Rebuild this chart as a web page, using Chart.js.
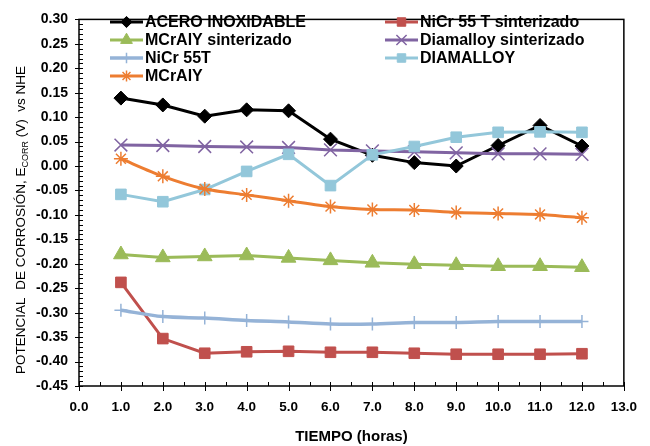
<!DOCTYPE html>
<html>
<head>
<meta charset="utf-8">
<script src="https://cdn.jsdelivr.net/npm/chart.js@4"></script>
<style>
  html, body { margin: 0; padding: 0; background: #fff; }
  #wrap { width: 650px; height: 446px; }
</style>
</head>
<body>
<div id="wrap"><canvas id="chart" width="650" height="446"></canvas></div>
<script>
const hours = [1, 2, 3, 4, 5, 6, 7, 8, 9, 10, 11, 12];

const acero         = [0.139, 0.125, 0.102, 0.115, 0.113, 0.055, 0.022, 0.007, 0.000, 0.042, 0.083, 0.041];
const nicrSint      = [-0.238, -0.353, -0.383, -0.380, -0.379, -0.381, -0.381, -0.383, -0.385, -0.385, -0.385, -0.384];
const mcralySint    = [-0.181, -0.187, -0.185, -0.183, -0.188, -0.193, -0.198, -0.201, -0.203, -0.205, -0.205, -0.207];
const diamalloySint = [0.043, 0.042, 0.040, 0.039, 0.038, 0.033, 0.031, 0.029, 0.027, 0.025, 0.025, 0.024];
const nicr          = [-0.295, -0.308, -0.311, -0.316, -0.319, -0.323, -0.323, -0.320, -0.320, -0.318, -0.318, -0.318];
const diamalloy     = [-0.058, -0.073, -0.048, -0.011, 0.024, -0.040, 0.023, 0.040, 0.059, 0.069, 0.070, 0.069];
const mcraly        = [0.015, -0.021, -0.047, -0.059, -0.071, -0.083, -0.089, -0.090, -0.095, -0.097, -0.099, -0.106];

const seriesNames = [
  "ACERO INOXIDABLE", "NiCr 55 T sinterizado", "MCrAlY sinterizado",
  "Diamalloy sinterizado", "NiCr 55T", "DIAMALLOY", "MCrAlY"
];

const FONT = "'Liberation Sans', Arial, sans-serif";

const toPoints = (vals) => hours.map((h, i) => ({ x: h, y: vals[i] }));

const makeSet = (i, vals, color, style, radius, width, tension, pointBorder) => ({
  label: seriesNames[i],
  data: toPoints(vals),
  borderColor: color,
  backgroundColor: color,
  borderWidth: width,
  pointStyle: style,
  pointRadius: radius,
  pointHoverRadius: radius,
  pointBackgroundColor: color,
  pointBorderColor: color,
  pointBorderWidth: pointBorder,
  tension: tension,
  order: -i, // excel draws later series on top
});

const datasets = [
  makeSet(0, acero, "#000000", "rectRot", 7, 3, 0, 1),
  makeSet(1, nicrSint, "#C0504D", "rect", 7.5, 3, 0, 1),
  makeSet(2, mcralySint, "#9BBB59", "triangle", 8.5, 3, 0, 1),
  makeSet(3, diamalloySint, "#8064A2", "crossRot", 9, 3, 0, 1.5),
  makeSet(4, nicr, "#95B3D7", "cross", 6.5, 3.5, 0.3, 1.5),
  makeSet(5, diamalloy, "#93C7DA", "rect", 7.5, 3, 0, 1),
  makeSet(6, mcraly, "#ED7D31", "star", 7, 3, 0.25, 1.5),
];

// ticks, frame, axis titles and the two-column legend
const decorations = {
  id: "decorations",
  afterDraw(chart) {
    const ctx = chart.ctx;
    const a = chart.chartArea;
    const xs = chart.scales.x;
    const ys = chart.scales.y;
    ctx.save();
    ctx.strokeStyle = "#000";
    ctx.lineWidth = 1.5;
    ctx.strokeRect(a.left, a.top, a.right - a.left, a.bottom - a.top);

    ctx.lineWidth = 1;
    ctx.beginPath();
    for (let k = 0; k <= 75; k++) {
      const py = Math.round(ys.getPixelForValue(-0.45 + k * 0.01)) + 0.5;
      if (k % 5 === 0) { ctx.moveTo(a.left - 4, py); ctx.lineTo(a.left + 4, py); }
      else { ctx.moveTo(a.left, py); ctx.lineTo(a.left + 4, py); }
    }
    for (let k = 0; k <= 26; k++) {
      const px = Math.round(xs.getPixelForValue(k * 0.5)) + 0.5;
      if (k % 2 === 0) { ctx.moveTo(px, a.bottom - 4); ctx.lineTo(px, a.bottom + 5); }
      else { ctx.moveTo(px, a.bottom - 4); ctx.lineTo(px, a.bottom); }
    }
    ctx.stroke();

    // x title
    ctx.fillStyle = "#000";
    ctx.font = "bold 15px " + FONT;
    ctx.textAlign = "center";
    ctx.textBaseline = "middle";
    ctx.fillText("TIEMPO (horas)", (a.left + a.right) / 2, 437);

    // y title with subscript
    const parts = [
      { t: "POTENCIAL  DE CORROSIÓN, E", f: "13.5px " + FONT, dy: 0 },
      { t: "CORR", f: "9px " + FONT, dy: 3 },
      { t: " (V)  vs NHE", f: "13.5px " + FONT, dy: 0 },
    ];
    let total = 0;
    parts.forEach(p => { ctx.font = p.f; p.w = ctx.measureText(p.t).width; total += p.w; });
    ctx.translate(21, 220);
    ctx.rotate(-Math.PI / 2);
    ctx.textAlign = "left";
    ctx.textBaseline = "alphabetic";
    let cx = -total / 2;
    parts.forEach(p => { ctx.font = p.f; ctx.fillText(p.t, cx, 4 + p.dy); cx += p.w; });
    ctx.setTransform(1, 0, 0, 1, 0, 0);

    // legend
    const cols = [110, 385];
    const rowY = [22, 40, 58, 76];
    ctx.font = "bold 16px " + FONT;
    ctx.textBaseline = "middle";
    chart.data.datasets.forEach((ds, i) => {
      const x0 = cols[i % 2];
      const y0 = rowY[Math.floor(i / 2)];
      ctx.strokeStyle = ds.borderColor;
      ctx.lineWidth = ds.borderWidth;
      ctx.beginPath();
      ctx.moveTo(x0, y0);
      ctx.lineTo(x0 + 33, y0);
      ctx.stroke();
      ctx.fillStyle = ds.borderColor;
      ctx.strokeStyle = ds.borderColor;
      ctx.lineWidth = ds.pointBorderWidth;
      Chart.helpers.drawPoint(ctx, { pointStyle: ds.pointStyle, radius: ds.pointRadius * 0.8, borderWidth: ds.pointBorderWidth, rotation: 0 }, x0 + 16.5, y0);
      ctx.fillStyle = "#000";
      ctx.fillText(ds.label, x0 + 35, y0 + 1);
    });
    ctx.restore();
  }
};

const chart = new Chart(document.getElementById("chart"), {
  type: "line",
  data: { datasets: datasets },
  options: {
    responsive: false,
    animation: false,
    events: [],
    layout: { padding: { top: 11, right: 17, left: 0, bottom: 0 } },
    plugins: { legend: { display: false }, tooltip: { enabled: false } },
    scales: {
      x: {
        type: "linear",
        min: 0,
        max: 13,
        afterFit: (s) => { s.height = 60; },
        afterBuildTicks: (s) => { s.ticks = Array.from({ length: 14 }, (_, k) => ({ value: k })); },
        grid: { display: true, drawOnChartArea: false, drawTicks: false },
        border: { display: false },
        ticks: {
          color: "#000",
          padding: 13,
          maxRotation: 0,
          autoSkip: false,
          font: { family: FONT, size: 13.5, weight: "bold" },
          callback: (v) => Number(v).toFixed(1),
        },
      },
      y: {
        min: -0.45,
        max: 0.30,
        afterFit: (s) => { s.width = 79; },
        afterBuildTicks: (s) => { s.ticks = Array.from({ length: 16 }, (_, k) => ({ value: -0.45 + k * 0.05 })); },
        grid: { display: true, drawOnChartArea: false, drawTicks: false },
        border: { display: false },
        ticks: {
          color: "#000",
          padding: 11,
          autoSkip: false,
          font: { family: FONT, size: 14, weight: "bold" },
          callback: (v) => Number(v).toFixed(2),
        },
      },
    },
  },
  plugins: [decorations],
});
</script>
</body>
</html>
